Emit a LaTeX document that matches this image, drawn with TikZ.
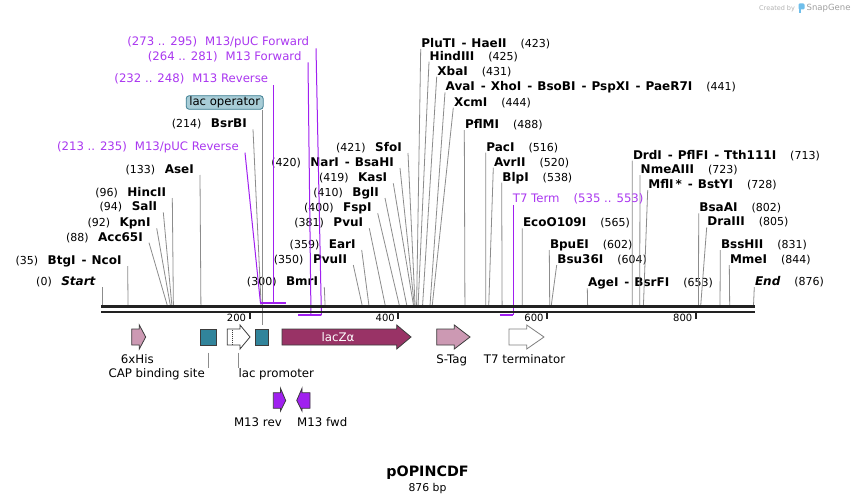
\documentclass[tikz,border=0pt]{standalone}
\usepackage{fontspec}
\setmainfont{DejaVu Sans}
\definecolor{cutgray}{RGB}{140,140,140}
\definecolor{bbcol}{RGB}{34,34,34}
\definecolor{primtext}{RGB}{170,55,240}
\definecolor{primline}{RGB}{160,32,240}
\definecolor{tealf}{RGB}{49,132,155}
\definecolor{laczf}{RGB}{153,51,102}
\definecolor{pinkf}{RGB}{204,153,179}
\definecolor{featedge}{RGB}{60,60,60}
\definecolor{opfill}{RGB}{168,205,215}
\definecolor{opedge}{RGB}{60,125,145}
\definecolor{m13f}{RGB}{160,32,240}
\definecolor{logoblue}{RGB}{110,190,235}
\newcommand\nm[1]{{\fontsize{12}{13}\selectfont\bfseries #1}}
\newcommand\EnzSep{\hspace{6pt}-\hspace{5pt}}
\newcommand\enzL[6]{%
  \node[num, anchor=base east] (#1) at (#2-6,#3-1.5) {(#5)\hspace{9.5pt}\nm{#6}};
  \coordinate (#1c) at ({102+0.7437*#4},306);
  \draw[cut] ([xshift=6pt,yshift=-1.5pt]#1.base east) -- (#1c);}
\newcommand\enzR[6]{%
  \node[num, anchor=base west] (#1) at (#2+0.5,#3-1.5) {\nm{#5}\hspace{14pt}(#6)};
  \coordinate (#1c) at ({102+0.7437*#4},306);
  \draw[cut] ([xshift=-0.5pt,yshift=-1.5pt]#1.base west) -- (#1c);}
\tikzset{
  num/.style={inner sep=0pt, font=\fontsize{11}{13}\selectfont, text=black},
  cut/.style={draw=cutgray, line width=0.8pt},
  prim/.style={inner sep=0pt, font=\fontsize{11.7}{13}\selectfont, text=primtext},
  pline/.style={draw=primline, line width=1pt},
  pbar/.style={draw=primline, line width=2.3pt},
  feat/.style={draw=featedge, line width=0.8pt},
  flabel/.style={inner sep=0pt, font=\fontsize{11.8}{13}\selectfont},
  ticklbl/.style={inner sep=0pt, font=\fontsize{10}{12}\selectfont},
  sq/.style={draw=featedge, line width=0.8pt, fill=tealf, inner sep=0pt, minimum height=16pt},
}
\begin{document}
\begin{tikzpicture}[x=1pt,y=-1pt]
\useasboundingbox (0,0) rectangle (856,503);
\fill[white] (0,0) rectangle (856,503);

% watermark
\node[anchor=base west, inner sep=0pt, text=gray!60, font=\fontsize{6.5}{7}\selectfont] (cby) at (759,10.5) {Created by};
\fill[logoblue, rounded corners=1.2pt] (798.5,3.5) rectangle (804.5,9.5);
\fill[logoblue] (798.5,8) rectangle (801,13);
\node[anchor=base west, inner sep=0pt, text=gray!75, font=\fontsize{8.5}{9}\selectfont] (sg) at (806.5,10.5) {SnapGene};

% left enzymes
\enzL{st}{102}{287}{0}{0}{\textit{Start}}
\enzL{btg}{127.7}{266}{35}{35}{BtgI\EnzSep NcoI}
\enzL{acc}{149}{242.7}{88}{88}{Acc65I}
\enzL{kpn}{156.7}{228.3}{92}{92}{KpnI}
\enzL{sal}{163.3}{212.3}{94}{94}{SalI}
\enzL{hinc}{172.3}{198}{96}{96}{HincII}
\enzL{ase}{200}{175}{133}{133}{AseI}
\enzL{bsrb}{253}{129.3}{214}{214}{BsrBI}
\enzL{bmr}{324.3}{287}{300}{300}{BmrI}
\enzL{pvutwo}{353.3}{265}{350}{350}{PvuII}
\enzL{ear}{361.7}{250}{359}{359}{EarI}
\enzL{pvuone}{369.3}{228.3}{381}{381}{PvuI}
\enzL{fsp}{377.7}{213.3}{400}{400}{FspI}
\enzL{bgl}{385}{198}{410}{410}{BglI}
\enzL{kas}{393.3}{183.3}{419}{419}{KasI}
\enzL{nar}{400}{168}{420}{420}{NarI\EnzSep BsaHI}
\enzL{sfo}{408}{153}{421}{421}{SfoI}

% right enzymes
\enzR{plu}{420.7}{49}{423}{PluTI\EnzSep HaeII}{423}
\enzR{hind}{429}{61.7}{425}{HindIII}{425}
\enzR{xba}{436.7}{76.7}{431}{XbaI}{431}
\enzR{ava}{445}{92.3}{441}{AvaI\EnzSep XhoI\EnzSep BsoBI\EnzSep PspXI\EnzSep PaeR7I}{441}
\enzR{xcm}{453.3}{107.7}{444}{XcmI}{444}
\enzR{pflm}{464.3}{130}{488}{PflMI}{488}
\enzR{pac}{485.7}{152.7}{516}{PacI}{516}
\enzR{avr}{493.3}{167.7}{520}{AvrII}{520}
\enzR{blp}{501.7}{182.7}{538}{BlpI}{538}
\enzR{eco}{522.3}{228.3}{565}{EcoO109I}{565}
\enzR{bpue}{549.3}{250}{602}{BpuEI}{602}
\enzR{bsu}{556.7}{265}{604}{Bsu36I}{604}
\enzR{age}{587.3}{288.3}{653}{AgeI\EnzSep BsrFI}{653}
\enzR{drd}{632.3}{160.7}{713}{DrdI\EnzSep PflFI\EnzSep Tth111I}{713}
\enzR{nme}{640}{175}{723}{NmeAIII}{723}
\enzR{mfl}{647.7}{190}{728}{MflI\,*\EnzSep BstYI}{728}
\enzR{bsaa}{698.7}{213.3}{802}{BsaAI}{802}
\enzR{dra}{706.7}{227.3}{805}{DraIII}{805}
\enzR{bss}{720.3}{250}{831}{BssHII}{831}
\enzR{mme}{729.3}{265}{844}{MmeI}{844}
\enzR{en}{754.3}{287}{876}{\textit{End}}{876}

% features (row)
\node[sq, minimum width=16.7pt] (cap) at (208.3,337) {};
\node[sq, minimum width=13.7pt] (lacopF) at (262,337) {};

% lac operator label box
\node[draw=opedge, fill=opfill, line width=0.8pt, rounded corners=3pt, inner sep=0pt,
      minimum width=77pt, minimum height=13.6pt, font=\fontsize{11.7}{13}\selectfont] (lacop) at (224.7,102.5) {lac operator};
\draw[cut] (lacopF.north |- lacop.south) -- ([yshift=4pt]lacopF.north);

% primers
\node[prim, anchor=base east] (pucrev) at (239,150) {(213 .. 235)\hspace{8pt}M13/pUC Reverse};
\coordinate (pucrevb) at ({102+0.7437*213},302.7);
\draw[pline] ([xshift=6pt,yshift=-2.7pt]pucrev.base east) -- (pucrevb);

\node[prim, anchor=base east] (mrev) at (268.3,82.3) {(232 .. 248)\hspace{8pt}M13 Reverse};
\coordinate (mrevb) at (273.3,302.7);
\draw[pline] ([xshift=5pt,yshift=-2.7pt]mrev.base east) -- (mrevb);

\node[prim, anchor=base east] (mfwd) at (301.7,60.7) {(264 .. 281)\hspace{8pt}M13 Forward};
\coordinate (mfwdb) at ({102+0.7437*281},315.3);
\draw[pline] ([xshift=6.3pt,yshift=-1.6pt]mfwd.base east) -- (mfwdb);

\node[prim, anchor=base east] (pucfwd) at (309.3,45.7) {(273 .. 295)\hspace{8pt}M13/pUC Forward};
\coordinate (pucfwdb) at ({102+0.7437*295},315.3);
\draw[pline] ([xshift=6.7pt,yshift=-2.6pt]pucfwd.base east) -- (pucfwdb);

\node[prim, anchor=base west] (tterm) at (512.7,202.7) {T7 Term\hspace{14pt}(535 .. 553)};
\coordinate (ttermb) at (513.3,315.3);
\draw[pline] ([xshift=0.6pt,yshift=-2.3pt]tterm.base west) -- (ttermb);

\draw[pbar] ({102+0.7437*213},302.7) -- ({102+0.7437*248},302.7);
\draw[pbar] ({102+0.7437*264},315.3) -- ({102+0.7437*295},315.3);
\draw[pbar] ({102+0.7437*535},315.3) -- ({102+0.7437*553},315.3);

% backbone
\draw[bbcol, line width=2.6pt] (101,306.7) -- (755,306.7);
\draw[bbcol, line width=2.6pt] (101,312) -- (755,312);
\foreach \t in {200,400,600,800} {
  \draw[bbcol, line width=2pt] ({101+0.7437*\t},313) -- ++(0,5.5);
  \node[ticklbl, anchor=base east] (tk\t) at ({97.5+0.7437*\t},321.5) {\t};
}

% feature arrows
\draw[feat, fill=pinkf] (131.7,329) -- (139.3,329) -- (139.3,325) -- (145.7,337) -- (139.3,349) -- (139.3,345) -- (131.7,345) -- cycle;
\draw[feat, fill=white] (227.3,329) -- (240,329) -- (240,325) -- (250,337) -- (240,349) -- (240,345) -- (227.3,345) -- cycle;
\draw[featedge, line width=0.8pt, dash pattern=on 1pt off 1pt] (232.7,329.5) -- (232.7,345);
\draw[feat, fill=laczf] (282,329) -- (396.7,329) -- (396.7,325) -- (411,337) -- (396.7,349) -- (396.7,345) -- (282,345) -- cycle;
\node[inner sep=0pt, text=white, font=\fontsize{11.8}{13}\selectfont] (laczl) at (338,337) {lacZα};
\draw[feat, fill=pinkf] (436.7,329) -- (454.3,329) -- (454.3,325) -- (470,337) -- (454.3,349) -- (454.3,345) -- (436.7,345) -- cycle;
\draw[draw=gray, line width=0.8pt, fill=white] (509,329) -- (526.7,329) -- (526.7,325) -- (544,337) -- (526.7,349) -- (526.7,345) -- (509,345) -- cycle;

% M13 primer features
\draw[feat, fill=m13f] (273.3,392.7) -- (280.5,392.7) -- (280.5,388.3) -- (285.7,400.5) -- (280.5,411) -- (280.5,408.3) -- (273.3,408.3) -- cycle;
\draw[feat, fill=m13f] (310,392.7) -- (302,392.7) -- (302,388.3) -- (296.7,400.5) -- (302,411) -- (302,408.3) -- (310,408.3) -- cycle;

% feature labels
\node[flabel, anchor=base] (hisl) at (137.3,363) {6xHis};
\node[flabel, anchor=base east] (capl) at (205,377.5) {CAP binding site};
\draw[cut] (208.3,352.7) -- (208.3,368);
\node[flabel, anchor=base west] (lacpl) at (238.3,377.5) {lac promoter};
\draw[cut] (238.3,352.7) -- (238.3,368);
\node[flabel, anchor=base] (stagl) at (451.7,363) {S-Tag};
\node[flabel, anchor=base] (t7l) at (524.5,363) {T7 terminator};
\node[flabel, anchor=base east] (mrevl) at (282,426) {M13 rev};
\node[flabel, anchor=base west] (mfwdl) at (297,426) {M13 fwd};

% title
\node[inner sep=0pt, anchor=base, font=\fontsize{14.3}{16}\selectfont\bfseries] (title) at (427.5,476) {pOPINCDF};
\node[inner sep=0pt, anchor=base, font=\fontsize{10.8}{12}\selectfont] (bp) at (427.5,491) {876 bp};
\end{tikzpicture}
\end{document}
